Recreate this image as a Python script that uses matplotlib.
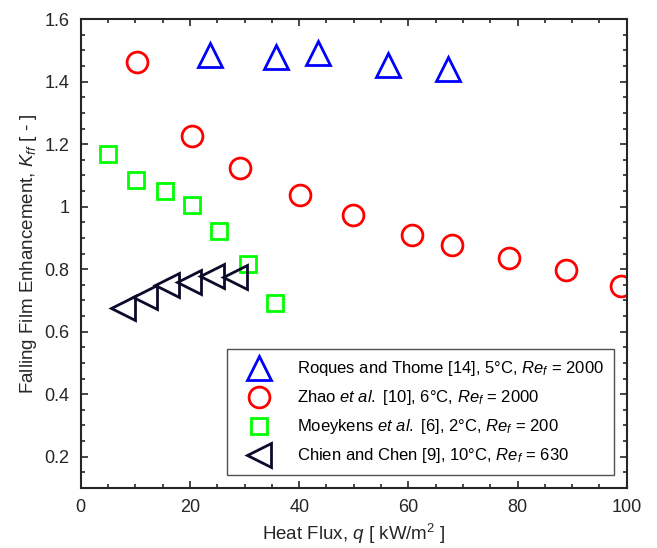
import matplotlib
matplotlib.use('Agg')
import matplotlib.pyplot as plt
from matplotlib.ticker import MultipleLocator

plt.rcParams['font.family'] = ['Liberation Sans', 'DejaVu Sans']
plt.rcParams['mathtext.fontset'] = 'custom'
plt.rcParams['mathtext.rm'] = 'Liberation Sans'
plt.rcParams['mathtext.it'] = 'Liberation Sans:italic'

# Roques and Thome [14]
q_roques = [23.6, 35.7, 43.4, 56.2, 67.2]
k_roques = [1.485, 1.479, 1.492, 1.453, 1.441]

# Zhao et al. [10]
q_zhao = [10.3, 20.4, 29.1, 40.1, 49.9, 60.7, 68.0, 78.4, 88.8, 98.9]
k_zhao = [1.462, 1.227, 1.124, 1.039, 0.973, 0.908, 0.878, 0.836, 0.797, 0.747]

# Moeykens et al. [6]
q_moey = [5.0, 10.2, 15.4, 20.4, 25.3, 30.6, 35.5]
k_moey = [1.170, 1.087, 1.051, 1.005, 0.922, 0.816, 0.692]

# Chien and Chen [9]
q_chien = [7.7, 11.7, 15.8, 19.8, 24.0, 28.2]
k_chien = [0.676, 0.711, 0.749, 0.759, 0.778, 0.775]

fig = plt.figure(figsize=(6.57, 5.48), dpi=100)
ax = fig.add_axes([0.123, 0.1095, 0.831, 0.8555])

mew = 2.0
ax.plot(q_roques, k_roques, '^', ms=17, mfc='none', mec='#0000ff', mew=mew,
        label='Roques and Thome [14], 5°C, $Re_f$ = 2000')
ax.plot(q_zhao, k_zhao, 'o', ms=15, mfc='none', mec='#ff0000', mew=mew,
        label='Zhao $et\\ al.$ [10], 6°C, $Re_f$ = 2000')
ax.plot(q_moey, k_moey, 's', ms=11.5, mfc='none', mec='#00ff00', mew=mew,
        label='Moeykens $et\\ al.$ [6], 2°C, $Re_f$ = 200')
ax.plot(q_chien, k_chien, '<', ms=17, mfc='none', mec='#0a0a2a', mew=mew,
        label='Chien and Chen [9], 10°C, $Re_f$ = 630')

ax.set_xlim(0, 100)
ax.set_ylim(0.1, 1.6)
ax.xaxis.set_major_locator(MultipleLocator(20))
ax.xaxis.set_minor_locator(MultipleLocator(5))
ax.yaxis.set_minor_locator(MultipleLocator(0.05))
ax.set_yticks([0.2, 0.4, 0.6, 0.8, 1.0, 1.2, 1.4, 1.6])
ax.set_yticklabels(['0.2', '0.4', '0.6', '0.8', '1', '1.2', '1.4', '1.6'])

ax.tick_params(which='both', direction='in', top=True, right=True,
               labelsize=13, colors='#262626', width=1.2)
ax.tick_params(which='major', length=5, pad=8)
ax.tick_params(which='minor', length=3)
for s in ax.spines.values():
    s.set_linewidth(1.5)
    s.set_color('#262626')

ax.set_xlabel('Heat Flux, $q$ [ kW/m$^2$ ]', fontsize=13.5, color='#262626')
ax.set_ylabel('Falling Film Enhancement, $K_{ff}$ [ - ]', fontsize=13.5, color='#262626')

leg = ax.legend(loc='lower right', fontsize=12, frameon=True, fancybox=False,
                borderaxespad=0.75, labelspacing=0.6, handletextpad=1.0,
                borderpad=0.6, handlelength=2.6)
leg.get_frame().set_edgecolor('#262626')
leg.get_frame().set_linewidth(1.0)

fig.savefig('out.png', dpi=100)
